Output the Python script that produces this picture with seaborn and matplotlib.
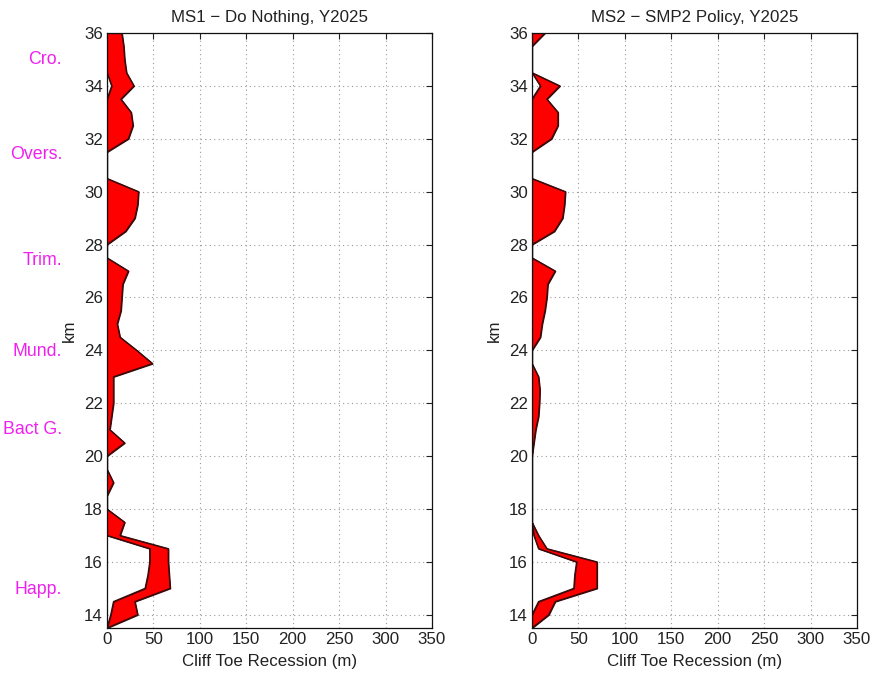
import numpy as np
import matplotlib
matplotlib.use("Agg")
import matplotlib.pyplot as plt
import matplotlib.transforms as mtransforms
import seaborn as sns
import pandas as pd

# Chainage along the frontage (km), sampled every 0.5 km from north to south
km = [36.0, 35.5, 35.0, 34.5, 34.0, 33.5, 33.0, 32.5, 32.0, 31.5,
      31.0, 30.5, 30.0, 29.5, 29.0, 28.5, 28.0, 27.5, 27.0, 26.5,
      26.0, 25.5, 25.0, 24.5, 24.0, 23.5, 23.0, 22.5, 22.0, 21.5,
      21.0, 20.5, 20.0, 19.5, 19.0, 18.5, 18.0, 17.5, 17.0, 16.5,
      16.0, 15.5, 15.0, 14.5, 14.0, 13.5]

# MS1 - Do Nothing: upper and lower recession estimates (m)
ms1_high = [16, 18, 19, 21, 29, 15, 26, 28, 23, 0,
            0, 0, 34, 33, 30, 20, 0, 0, 23, 17,
            16, 15, 11, 14, 32, 49, 7, 7, 7, 5,
            3, 19, 0, 0, 7, 0, 0, 19, 14, 66,
            66, 67, 68, 30, 33, 0]
ms1_low = [0, 0, 0, 0, 5, 0, 0, 0, 0, 0,
           0, 0, 0, 0, 0, 0, 0, 0, 0, 0,
           0, 0, 0, 0, 0, 0, 0, 0, 0, 0,
           0, 0, 0, 0, 0, 0, 0, 0, 0, 46,
           46, 44, 41, 7, 4, 0]

# MS2 - SMP2 Policy: upper and lower recession estimates (m)
ms2_high = [14, 0, 0, 0, 30, 16, 28, 28, 21, 0,
            0, 0, 36, 35, 33, 24, 0, 0, 25, 17,
            16, 14, 11, 9, 0, 0, 7, 8.5, 8, 7,
            4, 2, 0, 0, 0, 0, 0, 0, 7, 16,
            70, 70, 70, 25, 18, 0]
ms2_low = [0, 0, 0, 0, 9, 0, 0, 0, 0, 0,
           0, 0, 0, 0, 0, 0, 0, 0, 0, 0,
           0, 0, 0, 0, 0, 0, 0, 0, 0, 0,
           0, 0, 0, 0, 0, 0, 0, 0, 2, 7,
           48, 46, 45, 7, 0, 0]

# Place names marked against the left axis
place_names = ["Cro.", "Overs.", "Trim.", "Mund.", "Bact G.", "Happ."]
place_km = [35.0, 31.4, 27.4, 23.95, 21.0, 14.95]

panel_titles = ["MS1 \u2212 Do Nothing, Y2025", "MS2 \u2212 SMP2 Policy, Y2025"]
x_ticks = [0, 50, 100, 150, 200, 250, 300, 350]
y_ticks = [14, 16, 18, 20, 22, 24, 26, 28, 30, 32, 34, 36]

sns.set_style("white")
plt.rcParams["font.family"] = ["Liberation Sans", "DejaVu Sans"]
plt.rcParams["font.size"] = 12

fig = plt.figure(figsize=(8.72, 6.75), dpi=100)
W, H = 872, 675
ax_boxes = [(107, 33, 432, 628), (532, 33, 857, 628)]

FS = 12.2
txt = "#222222"
edge = "#3b0a0a"
for i, (high, low) in enumerate([(ms1_high, ms1_low), (ms2_high, ms2_low)]):
    x0, y0, x1, y1 = ax_boxes[i]
    ax = fig.add_axes([x0 / W, 1 - y1 / H, (x1 - x0) / W, (y1 - y0) / H])
    df = pd.DataFrame({"km": km, "high": high, "low": low})

    ax.fill_betweenx(df["km"], df["low"], df["high"], facecolor="#ff0000",
                     edgecolor=edge, linewidth=0.9, zorder=2)
    sns.lineplot(data=df, x="high", y="km", orient="y", sort=False,
                 estimator=None, color=edge, linewidth=0.9, ax=ax, zorder=3)
    sns.lineplot(data=df, x="low", y="km", orient="y", sort=False,
                 estimator=None, color=edge, linewidth=0.9, ax=ax, zorder=3)

    ax.set_xlim(0, 350)
    ax.set_ylim(13.5, 36)
    ax.set_xticks(x_ticks)
    ax.set_yticks(y_ticks)
    ax.grid(True, linestyle=(0, (1, 3)), color="#9a9a9a", linewidth=0.8)
    ax.set_axisbelow(True)
    ax.tick_params(direction="in", length=4, width=0.8, top=True, right=True,
                   labelsize=FS, colors=txt, labelcolor=txt, pad=3)
    for s in ax.spines.values():
        s.set_color("#111111")
        s.set_linewidth(0.9)
        s.set_zorder(5)
    ax.set_title(panel_titles[i], fontsize=FS, color=txt, pad=8)
    ax.set_xlabel("Cliff Toe Recession (m)", fontsize=FS, color=txt, labelpad=5)
    ax.set_ylabel("km", fontsize=FS, color=txt, labelpad=5)

    if i == 0:
        trans = mtransforms.blended_transform_factory(fig.transFigure, ax.transData)
        for name, k in zip(place_names, place_km):
            ax.text(62 / W, k, name, transform=trans, ha="right", va="center",
                    color="#f020f0", fontsize=12.8, clip_on=False)

fig.savefig("out.png", dpi=100)
